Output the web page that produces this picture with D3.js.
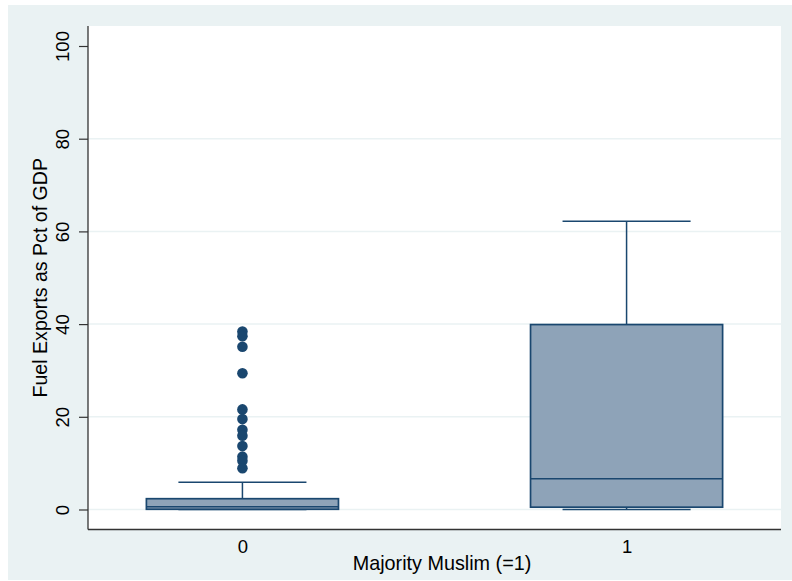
<!DOCTYPE html>
<html>
<head>
<meta charset="utf-8">
<script src="https://cdn.jsdelivr.net/npm/d3@7"></script>
<style>
  body { margin: 0; background: #fff; }
  text { font-family: "Liberation Sans", Arial, sans-serif; fill: #000; }
</style>
</head>
<body>
<div id="chart"></div>
<script>
(function () {

  // Groups on the x axis
  const categories = ["0", "1"];

  // Box statistics per group
  const lowerWhisker = [0, 0];
  const q1 = [0.05, 0.5];
  const median = [0.6, 6.65];
  const q3 = [2.33, 39.9];
  const upperWhisker = [5.87, 62.2];

  // Outside values per group
  const outliers = [
    [38.4, 37.4, 35.1, 29.4, 21.6, 19.5, 17.2, 15.9, 13.7, 11.4, 10.5, 8.9],
    []
  ];

  const yTicks = [0, 20, 40, 60, 80, 100];

  const width = 792, height = 581;
  const plot = { left: 88, right: 781, top: 26, bottom: 529.5 };

  const navy = "#1a476f";
  const boxFill = "#8ea3b8";
  const bg = "#eaf2f3";

  const svg = d3.select("#chart")
    .append("svg")
    .attr("width", width)
    .attr("height", height);

  // Outer graph region
  svg.append("rect")
    .attr("x", 8).attr("y", 5)
    .attr("width", width - 8).attr("height", height - 6)
    .attr("fill", bg);

  // Plot region
  svg.append("rect")
    .attr("x", plot.left).attr("y", plot.top)
    .attr("width", plot.right - plot.left)
    .attr("height", plot.bottom - plot.top)
    .attr("fill", "#fff");

  const x = d3.scalePoint()
    .domain(categories)
    .range([plot.left, plot.right])
    .padding(0.402);

  const y = d3.scaleLinear()
    .domain([0, 100])
    .range([509.5, 46]);

  // Gridlines
  svg.append("g")
    .selectAll("line")
    .data(yTicks.filter(d => d < 100))
    .enter()
    .append("line")
    .attr("x1", plot.left).attr("x2", plot.right)
    .attr("y1", d => y(d)).attr("y2", d => y(d))
    .style("stroke", bg)
    .style("stroke-width", 1.5);

  // Boxes
  const boxW = x.step() * 0.5;
  const capW = boxW * 2 / 3;

  const groups = svg.append("g")
    .selectAll("g")
    .data(categories.map((c, i) => ({
      cat: c,
      lo: lowerWhisker[i], q1: q1[i], med: median[i], q3: q3[i], hi: upperWhisker[i],
      out: outliers[i]
    })))
    .enter()
    .append("g");

  // whisker stems
  groups.append("line")
    .attr("x1", d => x(d.cat)).attr("x2", d => x(d.cat))
    .attr("y1", d => y(d.q3)).attr("y2", d => y(d.hi))
    .style("stroke", navy).style("stroke-width", 1.5);
  groups.append("line")
    .attr("x1", d => x(d.cat)).attr("x2", d => x(d.cat))
    .attr("y1", d => y(d.q1)).attr("y2", d => y(d.lo))
    .style("stroke", navy).style("stroke-width", 1.5);

  // whisker caps
  ["hi", "lo"].forEach(k => {
    groups.append("line")
      .attr("x1", d => x(d.cat) - capW / 2).attr("x2", d => x(d.cat) + capW / 2)
      .attr("y1", d => y(d[k])).attr("y2", d => y(d[k]))
      .style("stroke", navy).style("stroke-width", 1.5);
  });

  groups.append("rect")
    .attr("x", d => x(d.cat) - boxW / 2)
    .attr("width", boxW)
    .attr("y", d => y(d.q3))
    .attr("height", d => y(d.q1) - y(d.q3))
    .style("fill", boxFill)
    .style("stroke", navy)
    .style("stroke-width", 1.7);

  groups.append("line")
    .attr("x1", d => x(d.cat) - boxW / 2).attr("x2", d => x(d.cat) + boxW / 2)
    .attr("y1", d => y(d.med)).attr("y2", d => y(d.med))
    .style("stroke", navy).style("stroke-width", 1.6);

  // Outside values
  groups.selectAll("circle")
    .data(d => d.out.map(v => ({ cat: d.cat, v: v })))
    .enter()
    .append("circle")
    .attr("cx", d => x(d.cat))
    .attr("cy", d => y(d.v))
    .attr("r", 5.3)
    .style("fill", navy);

  // Y axis
  const yAxis = svg.append("g")
    .attr("transform", `translate(${plot.left},0)`)
    .call(d3.axisLeft(y).tickValues(yTicks).tickSize(9).tickPadding(10).tickFormat(d3.format("d")));
  yAxis.select(".domain").remove();
  yAxis.selectAll(".tick line").style("stroke", "#333").style("stroke-width", 1.2);
  yAxis.selectAll(".tick text")
    .attr("transform", "rotate(-90)")
    .attr("x", 0)
    .attr("y", -19)
    .attr("dy", 0)
    .attr("text-anchor", "middle")
    .style("font-size", "18.5px")
    .style("font-family", "'Liberation Sans', Arial, sans-serif")
    .style("fill", "#000");

  // X axis
  const xAxis = svg.append("g")
    .attr("transform", `translate(0,${plot.bottom})`)
    .call(d3.axisBottom(x).tickSize(0).tickPadding(0));
  xAxis.select(".domain").remove();
  xAxis.selectAll(".tick text")
    .attr("y", 23)
    .attr("dy", 0)
    .style("font-size", "18.5px")
    .style("font-family", "'Liberation Sans', Arial, sans-serif")
    .style("fill", "#000");

  // Axis lines
  svg.append("line")
    .attr("x1", plot.left).attr("x2", plot.left)
    .attr("y1", plot.top).attr("y2", plot.bottom)
    .style("stroke", "#333").style("stroke-width", 1.3);
  svg.append("line")
    .attr("x1", plot.left).attr("x2", plot.right)
    .attr("y1", plot.bottom).attr("y2", plot.bottom)
    .style("stroke", "#333").style("stroke-width", 1.3);

  // Axis titles
  svg.append("text")
    .attr("transform", `translate(47,${(plot.top + plot.bottom) / 2}) rotate(-90)`)
    .attr("text-anchor", "middle")
    .style("font-size", "19.6px")
    .text("Fuel Exports as Pct of GDP");

  svg.append("text")
    .attr("x", 442)
    .attr("y", 569.5)
    .attr("text-anchor", "middle")
    .style("font-size", "19.8px")
    .text("Majority Muslim (=1)");

})();
</script>
</body>
</html>
